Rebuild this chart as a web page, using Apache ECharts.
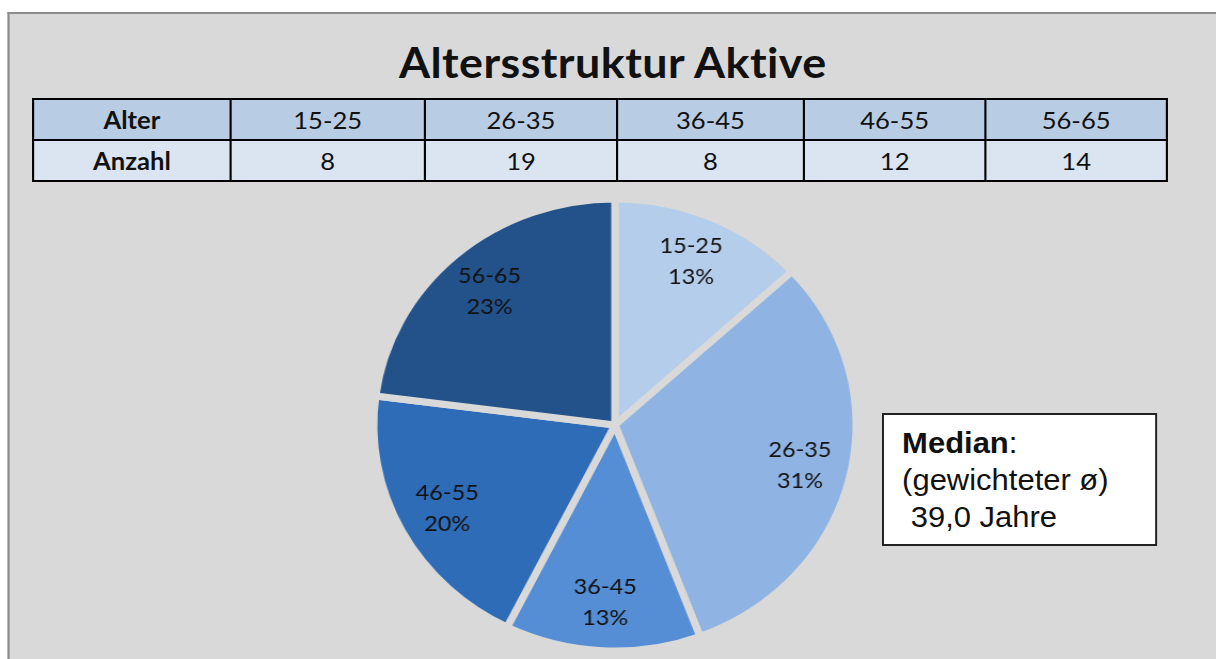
<!DOCTYPE html>
<html>
<head>
<meta charset="utf-8">
<script src="https://cdn.jsdelivr.net/npm/echarts@6/dist/echarts.min.js"></script>
<style>
  html, body { margin: 0; padding: 0; background: #fff; overflow: hidden; }
  /* the original screenshot is stretched horizontally, so the whole sheet is too */
  #sheet { position: absolute; left: 0; top: 0; width: 1139px; height: 659px; transform: scaleX(1.0676); transform-origin: 0 0; }
  #panel { position: absolute; left: 7px; top: 12px; width: 1200px; height: 700px; background: #d9d9d9; border-left: 2px solid #8c8c8c; border-top: 2px solid #8c8c8c; }
  #chart { position: absolute; left: 0; top: 0; width: 1139px; height: 659px; }
  #title { position: absolute; left: 174px; width: 800px; top: 37px; text-align: center; font: bold 42px Lato, sans-serif; line-height: 50px; color: #111; letter-spacing: 0.4px; }
  #tbl { position: absolute; left: 30px; top: 98px; width: 1062px; border-collapse: collapse; table-layout: fixed; font: 24px Lato, sans-serif; color: #111; }
  #tbl td { border: 2px solid #000; text-align: center; height: 39px; padding: 0; }
  #tbl tr.head td { background: #b8cce4; }
  #tbl tr.vals td { background: #dbe5f1; }
  #tbl td.lbl { font-weight: bold; }
  #median { position: absolute; left: 826px; top: 413px; width: 258px; height: 133px; box-sizing: border-box; background: #fff; border: 2px solid #222; padding: 10px 0 0 17px; font: 29px "Liberation Sans", Arial, sans-serif; line-height: 37px; color: #111; }
</style>
</head>
<body>
<div id="sheet">
  <div id="panel"></div>
  <div id="title"></div>
  <table id="tbl"></table>
  <div id="chart"></div>
  <div id="median"></div>
</div>
<script>
const chartTitle = 'Altersstruktur Aktive';
const ageGroups = ['15-25', '26-35', '36-45', '46-55', '56-65'];
const counts = [8, 19, 8, 12, 14];
const sliceColors = ['#b3cdeb', '#8fb4e3', '#558ed5', '#2e6cb8', '#23528b'];
const colWidths = [185, 182, 180, 175, 170, 170];
const medianLines = ['<b>Median</b>:', '(gewichteter ø)', '&nbsp;39,0 Jahre'];

document.getElementById('title').textContent = chartTitle;
document.getElementById('median').innerHTML = medianLines.join('<br>');

// Tabelle oben: Alter / Anzahl
const tbl = document.getElementById('tbl');
let html = '<colgroup>' + colWidths.map(w => `<col style="width:${w}px">`).join('') + '</colgroup>';
html += '<tr class="head"><td class="lbl">Alter</td>' + ageGroups.map(g => `<td>${g}</td>`).join('') + '</tr>';
html += '<tr class="vals"><td class="lbl">Anzahl</td>' + counts.map(c => `<td>${c}</td>`).join('') + '</tr>';
tbl.innerHTML = html;

const pieData = ageGroups.map((g, i) => ({ name: g, value: counts[i], itemStyle: { color: sliceColors[i] } }));

const chart = echarts.init(document.getElementById('chart'));
chart.setOption({
  backgroundColor: 'transparent',
  animation: false,
  series: [
    {
      type: 'pie',
      center: [576, 425],
      radius: [0, 226],
      startAngle: 90,
      clockwise: true,
      silent: true,
      data: pieData,
      itemStyle: { borderColor: '#d9d9d9', borderWidth: 7 },
      label: { show: false },
      labelLine: { show: false }
    },
    {
      // nur für die Beschriftung weiter außen im Segment
      type: 'pie',
      center: [576, 425],
      radius: [124, 226],
      startAngle: 90,
      silent: true,
      percentPrecision: 0,
      data: ageGroups.map((g, i) => ({ name: g, value: counts[i] })),
      itemStyle: { color: 'transparent' },
      label: {
        show: true,
        position: 'inside',
        formatter: '{b}\n{d}%',
        color: '#111',
        fontFamily: 'Lato',
        fontSize: 22,
        lineHeight: 31
      },
      labelLine: { show: false }
    }
  ]
});
</script>
</body>
</html>
